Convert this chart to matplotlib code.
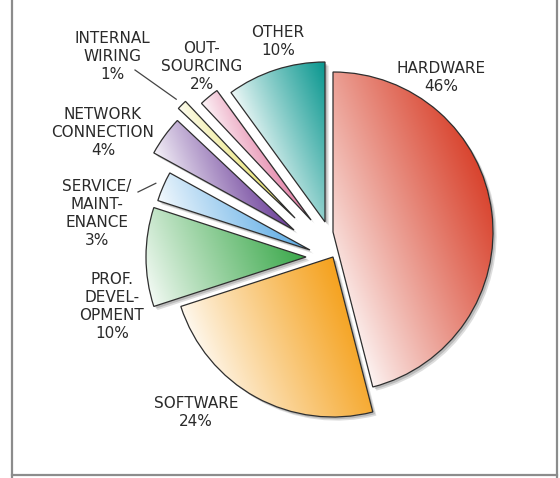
import numpy as np
import matplotlib
matplotlib.use("Agg")
import matplotlib.pyplot as plt
import matplotlib.patches as mpatches
import matplotlib.patheffects as pe
from matplotlib.colors import to_rgb

# ---------------------------------------------------------------
# Technology spending breakdown (share of budget, %)
# ---------------------------------------------------------------
names = ["HARDWARE", "SOFTWARE", "PROF.\nDEVEL-\nOPMENT", "SERVICE/\nMAINT-\nENANCE",
         "NETWORK\nCONNECTION", "INTERNAL\nWIRING", "OUT-\nSOURCING", "OTHER"]
shares = [46, 24, 10, 3, 4, 1, 2, 10]

# slice colours (full-strength end of each gradient)
colors = ["#d8402a", "#f5a11c", "#3aa84a", "#58a9e4",
          "#6a3c98", "#e6df5a", "#e27ca3", "#07968e"]

# canvas is laid out in pixel units, y pointing up
W, H = 560, 478
CENTER = (318, 240)
RADIUS = 160

# hand-placed explode offsets for each slice (dx, dy)
nudge = [(15, 6), (15, -19), (-12, -19), (-8, -12),
         (-24, 8), (-23, 20), (-7, 18), (7, 16)]

# label anchor points (x, y from the top edge)
label_xy = [(441, 77), (196, 412), (112, 306), (97, 213),
            (103, 132), (112, 56), (202, 66), (278, 41)]

TEXT = "#2a2a2a"
FRAME = "#8c8c8c"

fig = plt.figure(figsize=(W / 100, H / 100), dpi=100)
fig.patch.set_facecolor("white")
ax = fig.add_axes([0, 0, 1, 1])

wedges, _ = ax.pie(shares, startangle=90, counterclock=False, radius=RADIUS,
                   center=CENTER, frame=False,
                   wedgeprops=dict(facecolor="white", edgecolor="none", zorder=1))

shadow = [pe.SimplePatchShadow(offset=(2.6, -2.6), shadow_rgbFace="#7a7a7a", alpha=0.25),
          pe.SimplePatchShadow(offset=(1.6, -1.6), shadow_rgbFace="#7a7a7a", alpha=0.35),
          pe.Normal()]

ang = np.deg2rad(22)
for w, (dx, dy), col in zip(wedges, nudge, colors):
    w.set_center((CENTER[0] + dx, CENTER[1] + dy))
    w.set_path_effects(shadow)

    # white -> colour gradient running lower-left to upper-right
    verts = w.get_path().vertices
    x0, y0 = verts.min(axis=0)
    x1, y1 = verts.max(axis=0)
    gx, gy = np.meshgrid(np.linspace(x0, x1, 160), np.linspace(y0, y1, 160))
    proj = gx * np.cos(ang) + gy * np.sin(ang)
    vp = verts[:, 0] * np.cos(ang) + verts[:, 1] * np.sin(ang)
    t = np.clip((proj - vp.min()) / (vp.max() - vp.min()), 0, 1)
    f = 0.06 + 0.94 * t ** 0.9
    base = np.array(to_rgb(col))
    img = 1 - f[..., None] * (1 - base[None, None, :])
    im = ax.imshow(img, extent=(x0, x1, y0, y1), origin="lower",
                   interpolation="bilinear", zorder=2)
    im.set_clip_path(w)

    ax.add_patch(mpatches.PathPatch(w.get_path(), fill=False, edgecolor="#2e2e2e",
                                    linewidth=0.9, zorder=3))

# slice labels
for name, share, (lx, ly) in zip(names, shares, label_xy):
    ax.text(lx, H - ly, f"{name}\n{share}%", ha="center", va="center",
            multialignment="center", fontsize=11, color=TEXT,
            linespacing=1.25, family="DejaVu Sans", zorder=5)

# leader lines for the two thin slices on the left
for idx, (sx, sy) in [(5, (135, 70)), (3, (138, 192))]:
    w = wedges[idx]
    mid = np.deg2rad((w.theta1 + w.theta2) / 2)
    cx, cy = w.center
    ex = cx + (RADIUS + 8) * np.cos(mid)
    ey = cy + (RADIUS + 8) * np.sin(mid)
    ax.plot([sx, ex], [H - sy, ey], color="#444444", linewidth=0.9, zorder=5)

# thin grey frame on the left, right and bottom
ax.plot([12, 12], [0, H], color=FRAME, linewidth=1.6, zorder=6)
ax.plot([557, 557], [0, H], color=FRAME, linewidth=1.6, zorder=6)
ax.plot([12, 557], [3, 3], color=FRAME, linewidth=1.6, zorder=6)

ax.set_xlim(0, W)
ax.set_ylim(0, H)
ax.set_aspect("auto")
ax.axis("off")

fig.savefig("out.png", dpi=100, facecolor="white")
